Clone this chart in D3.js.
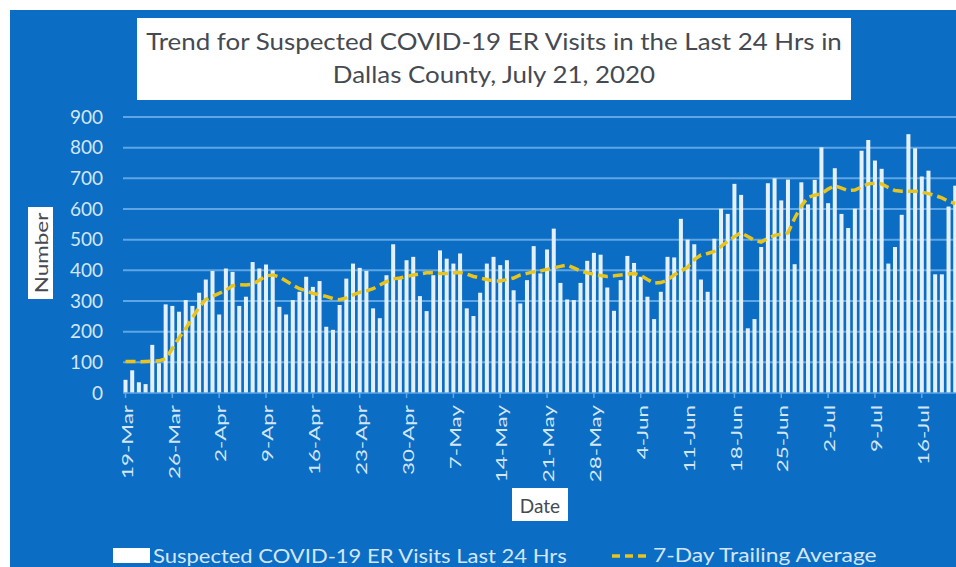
<!DOCTYPE html>
<html>
<head>
<meta charset="utf-8">
<script src="https://cdn.jsdelivr.net/npm/d3@7"></script>
<style>
  body { margin: 0; background: #fff; }
  text { font-family: Lato, "Open Sans", sans-serif; }
</style>
</head>
<body>
<div id="chart"></div>
<script>
const WIDTH = 956, HEIGHT = 567;

// daily suspected COVID-19 ER visits, 19-Mar .. 21-Jul 2020
const visits = [
  43, 74, 35, 29, 157, 97, 289, 284, 265, 303, 284, 327, 370, 398, 256, 406, 395, 284, 314, 427,
  406, 419, 400, 281, 256, 303, 330, 379, 346, 365, 216, 206, 287, 373, 422, 408, 398, 276, 244, 384,
  485, 373, 433, 444, 316, 267, 384, 465, 438, 422, 455, 276, 251, 327, 422, 444, 417, 433, 335, 292,
  368, 479, 390, 468, 536, 359, 305, 303, 359, 431, 457, 451, 344, 268, 368, 447, 424, 379, 314, 241,
  330, 444, 442, 568, 500, 485, 370, 330, 503, 601, 584, 682, 646, 211, 241, 476, 684, 700, 628, 696,
  420, 687, 615, 695, 801, 619, 733, 584, 538, 601, 790, 825, 758, 731, 422, 476, 581, 844, 798, 706,
  725, 387, 387, 608, 676
];

// 7-day trailing average as drawn (yellow dashed line)
const trailing = [
  103, 103, 102, 103, 104, 105, 112, 145, 180, 210, 245, 280, 305, 315, 325, 335, 350, 353, 352, 355,
  368, 382, 385, 378, 365, 352, 340, 333, 325, 320, 315, 308, 304, 310, 320, 328, 333, 340, 352, 363,
  372, 375, 380, 385, 388, 392, 392, 390, 390, 392, 393, 388, 380, 375, 370, 365, 365, 370, 375, 385,
  390, 395, 398, 403, 408, 413, 417, 408, 398, 392, 387, 383, 380, 382, 385, 388, 390, 383, 370, 358,
  360, 368, 385, 398, 410, 435, 450, 455, 462, 478, 495, 510, 523, 510, 498, 492, 505, 514, 518, 522,
  570, 610, 638, 645, 650, 665, 676, 668, 660, 662, 672, 682, 684, 682, 670, 660, 658, 658, 658, 655,
  650, 644, 636, 625, 618
];

const dates = d3.timeDay.range(new Date(2020, 2, 19), new Date(2020, 6, 22));
const tickLabels = ["19-Mar", "26-Mar", "2-Apr", "9-Apr", "16-Apr", "23-Apr", "30-Apr", "7-May",
  "14-May", "21-May", "28-May", "4-Jun", "11-Jun", "18-Jun", "25-Jun", "2-Jul", "9-Jul", "16-Jul"];
const yTicks = [0, 100, 200, 300, 400, 500, 600, 700, 800, 900];

const fmt = d3.timeFormat("%-d-%b");
let data = dates.map((d, i) => ({ date: d, label: fmt(d), count: visits[i], avg: trailing[i] }));

const BLUE = "#0b6dc3", GRID = "#5ea6e4", BAR = "#e4f1fd", LABEL = "#d3e6f8", YELLOW = "#e9c41c";

let svg = d3.select("#chart").append("svg")
    .attr("width", WIDTH)
    .attr("height", HEIGHT);

svg.append("rect").attr("width", WIDTH).attr("height", HEIGHT).attr("fill", "#fff");
svg.append("rect")
    .attr("x", 10).attr("y", 10)
    .attr("width", WIDTH - 10).attr("height", HEIGHT - 10)
    .attr("fill", BLUE);

// scales
let x = d3.scaleBand()
    .domain(data.map(d => d.label))
    .range([123.5, 123.5 + 125 * 6.67])
    .paddingInner(0.4);

let y = d3.scaleLinear()
    .domain([0, 900])
    .range([393, 117]);

let xc = d => x(d) + x.bandwidth() / 2;

// gridlines
svg.append("g")
    .selectAll("line")
    .data(yTicks.slice(1))
    .join("line")
    .attr("x1", 123).attr("x2", WIDTH)
    .attr("y1", d => y(d)).attr("y2", d => y(d))
    .attr("stroke", GRID)
    .attr("stroke-width", 2);

// y axis labels
let yAxis = svg.append("g")
    .attr("transform", "translate(103,0)")
    .call(d3.axisLeft(y).tickValues(yTicks).tickSize(0).tickPadding(0));
yAxis.select(".domain").remove();
yAxis.selectAll("text")
    .attr("fill", LABEL)
    .style("font-size", "19px");

// bars
svg.append("g")
    .selectAll("rect")
    .data(data)
    .join("rect")
    .attr("x", d => x(d.label))
    .attr("y", d => y(d.count))
    .attr("width", x.bandwidth())
    .attr("height", d => y(0) - y(d.count))
    .attr("fill", BAR);

// x axis
svg.append("line")
    .attr("x1", 123).attr("x2", WIDTH)
    .attr("y1", y(0)).attr("y2", y(0))
    .attr("stroke", GRID)
    .attr("stroke-width", 1.5);

let xTicks = svg.append("g")
    .selectAll("g")
    .data(tickLabels)
    .join("g")
    .attr("transform", d => `translate(${xc(d)}, 0)`);

xTicks.append("line")
    .attr("y1", y(0)).attr("y2", y(0) + 5)
    .attr("stroke", GRID)
    .attr("stroke-width", 1.5);

xTicks.append("text")
    .attr("transform", `translate(1, 405) rotate(-90) scale(1.4, 1)`)
    .attr("text-anchor", "end")
    .attr("dominant-baseline", "central")
    .attr("fill", LABEL)
    .style("font-size", "16px")
    .text(d => d);

// 7-day trailing average
let line = d3.line()
    .x(d => xc(d.label))
    .y(d => y(d.avg));

svg.append("path")
    .datum(data)
    .attr("d", line)
    .attr("fill", "none")
    .attr("stroke", YELLOW)
    .attr("stroke-width", 3.5)
    .attr("stroke-dasharray", "10,5");

// title
svg.append("rect")
    .attr("x", 137).attr("y", 18)
    .attr("width", 714).attr("height", 82)
    .attr("fill", "#fff");

let title = svg.append("text")
    .attr("transform", "translate(494, 0) scale(1.08, 1)")
    .attr("text-anchor", "middle")
    .attr("fill", "#454a52")
    .style("font-size", "24px");
title.append("tspan").attr("x", 0).attr("y", 50)
    .text("Trend for Suspected COVID-19 ER Visits in the Last 24 Hrs in");
title.append("tspan").attr("x", 0).attr("y", 83)
    .text("Dallas County, July 21, 2020");

// axis titles
svg.append("rect")
    .attr("x", 28).attr("y", 207)
    .attr("width", 25).attr("height", 92)
    .attr("fill", "#fff");
svg.append("text")
    .attr("transform", "translate(41, 253) rotate(-90) scale(1.25, 1)")
    .attr("text-anchor", "middle")
    .attr("dominant-baseline", "central")
    .attr("fill", "#454a52")
    .style("font-size", "18px")
    .text("Number");

svg.append("rect")
    .attr("x", 512).attr("y", 488)
    .attr("width", 56).attr("height", 33)
    .attr("fill", "#fff");
svg.append("text")
    .attr("x", 540).attr("y", 505)
    .attr("text-anchor", "middle")
    .attr("dominant-baseline", "central")
    .attr("fill", "#454a52")
    .style("font-size", "19px")
    .text("Date");

// legend
let legend = svg.append("g");
legend.append("rect")
    .attr("x", 113).attr("y", 548)
    .attr("width", 37).attr("height", 15)
    .attr("fill", "#fff");
legend.append("text")
    .attr("transform", "translate(153, 555) scale(1.1, 1)")
    .attr("dominant-baseline", "central")
    .attr("fill", LABEL)
    .style("font-size", "20px")
    .text("Suspected COVID-19 ER Visits Last 24 Hrs");
legend.append("line")
    .attr("x1", 612).attr("x2", 650)
    .attr("y1", 556).attr("y2", 556)
    .attr("stroke", YELLOW)
    .attr("stroke-width", 3.5)
    .attr("stroke-dasharray", "8,5");
legend.append("text")
    .attr("transform", "translate(653, 555) scale(1.14, 1)")
    .attr("dominant-baseline", "central")
    .attr("fill", LABEL)
    .style("font-size", "20px")
    .text("7-Day Trailing Average");
</script>
</body>
</html>
